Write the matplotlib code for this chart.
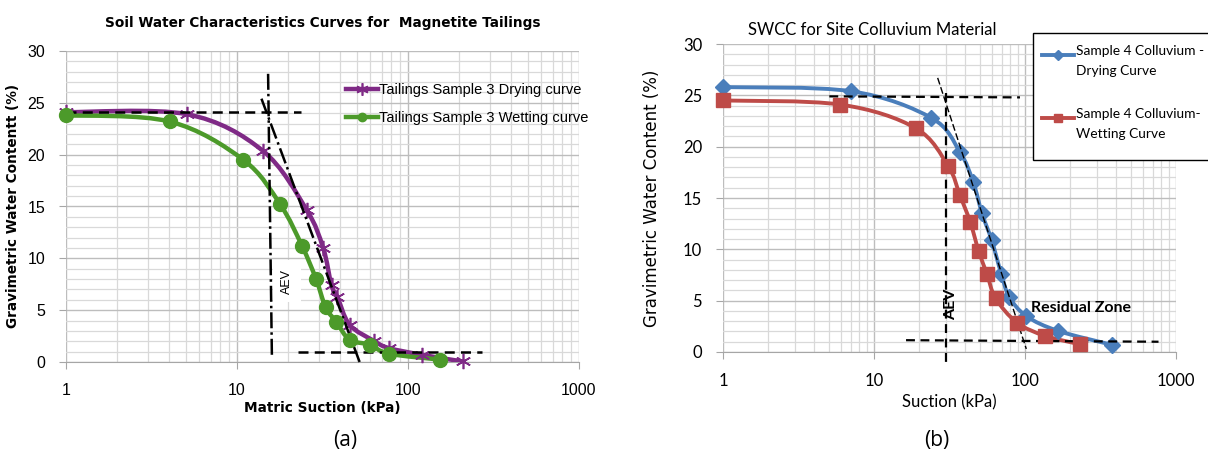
"""SWCC curves: magnetite tailings (a) and site colluvium (b)"""
import numpy as np
import matplotlib.pyplot as plt
from matplotlib.path import Path
from matplotlib.patches import PathPatch, Rectangle
from matplotlib.lines import Line2D
from matplotlib.ticker import MultipleLocator, LogLocator, FixedLocator

# ---- data ----
# (a) tailings
tail_dry_x = [1, 5.1, 14.1, 25.5, 31.9, 35.7, 38.6, 45.5, 63, 77, 120, 209]
tail_dry_y = [24.1, 23.9, 20.4, 14.7, 11.0, 7.4, 6.3, 3.6, 2.05, 1.35, 0.7, 0.05]
tail_wet_x = [1, 4.03, 10.9, 17.9, 24, 29, 33, 38, 45.5, 59.8, 77.4, 154]
tail_wet_y = [23.8, 23.2, 19.5, 15.2, 11.2, 8.0, 5.26, 3.9, 2.15, 1.67, 0.8, 0.23]

# (b) colluvium
coll_dry_x = [1, 7.05, 24, 37, 45.3, 51.9, 60.1, 69.7, 78.5, 102, 166, 377]
coll_dry_y = [25.8, 25.4, 22.8, 19.5, 16.6, 13.5, 10.9, 7.6, 5.4, 3.5, 2.05, 0.7]
coll_wet_x = [1, 5.98, 18.9, 31, 37, 43.4, 49.4, 56, 63.8, 88.3, 136, 232]
coll_wet_y = [24.5, 24.1, 21.8, 18.1, 15.3, 12.65, 9.8, 7.6, 5.25, 2.87, 1.57, 0.75]

tail_labels = ['Tailings Sample 3 Drying curve', 'Tailings Sample 3 Wetting curve']
coll_labels = ['Sample 4 Colluvium -\nDrying Curve', 'Sample 4 Colluvium-\nWetting Curve']

PURPLE, GREEN = '#7f2a86', '#4c9a2a'
BLUE, RED = '#4a7ebb', '#be4b48'
NARROW = ['Lato', 'DejaVu Sans']


def smooth_line(ax, xs, ys, color, lw):
    # Excel-style smoothed line: Catmull-Rom bezier through the points in log-x space
    lx = np.log10(xs)
    ys = np.asarray(ys, float)
    n = len(lx)
    verts = [(xs[0], ys[0])]
    codes = [Path.MOVETO]
    for i in range(n - 1):
        i0, i2, i3 = max(i - 1, 0), i + 1, min(i + 2, n - 1)
        c1 = (lx[i] + (lx[i2] - lx[i0]) / 6, ys[i] + (ys[i2] - ys[i0]) / 6)
        c2 = (lx[i2] - (lx[i3] - lx[i]) / 6, ys[i2] - (ys[i3] - ys[i]) / 6)
        verts += [(10 ** c1[0], c1[1]), (10 ** c2[0], c2[1]), (xs[i2], ys[i2])]
        codes += [Path.CURVE4] * 3
    ax.add_patch(PathPatch(Path(verts, codes), facecolor='none', edgecolor=color,
                           lw=lw, zorder=3, capstyle='round'))


def setup_axes(ax, ymax=30):
    ax.set_xscale('log')
    ax.set_xlim(1, 1000)
    ax.set_ylim(0, ymax)
    ax.xaxis.set_major_locator(FixedLocator([1, 10, 100, 1000]))
    ax.xaxis.set_minor_locator(LogLocator(base=10, subs=np.arange(2, 10)))
    ax.xaxis.set_major_formatter(plt.FuncFormatter(lambda v, p: f'{v:g}'))
    ax.xaxis.set_minor_formatter(plt.NullFormatter())
    ax.yaxis.set_major_locator(MultipleLocator(5))
    ax.yaxis.set_minor_locator(MultipleLocator(1))
    ax.grid(True, which='major', color='#bdbdbd', lw=1.0)
    ax.grid(True, which='minor', color='#d9d9d9', lw=0.9)
    for s in ['top', 'right']:
        ax.spines[s].set_visible(False)
    ax.spines['left'].set_visible(False)
    ax.spines['bottom'].set_color('#a6a6a6')
    ax.tick_params(which='both', length=0)
    ax.tick_params(axis='y', which='major', length=5, color='#a6a6a6', pad=10)
    ax.tick_params(axis='x', which='major', length=5, color='#a6a6a6', pad=10)
    ax.set_axisbelow(True)


fig = plt.figure(figsize=(12.08, 4.61), dpi=100)
W, H = 1208, 461

# ================= (a) =================
ax1 = fig.add_axes([66 / W, 1 - 362 / H, 513 / W, 311 / H])
setup_axes(ax1)
smooth_line(ax1, tail_dry_x, tail_dry_y, PURPLE, 3.2)
smooth_line(ax1, tail_wet_x, tail_wet_y, GREEN, 3.2)
ax1.plot(tail_dry_x, tail_dry_y, ls='none', marker=(6, 2, 0), ms=11, mew=1.2,
         color=PURPLE, zorder=4, clip_on=False)
ax1.plot(tail_wet_x, tail_wet_y, ls='none', marker='o', ms=10,
         color=GREEN, zorder=5, clip_on=False)

# construction lines
ax1.plot([1, 23.6], [24.1, 24.1], color='k', ls=(0, (4, 2.5)), lw=1.8, zorder=4)
ax1.plot([22.6, 270], [0.95, 0.95], color='k', ls=(0, (4, 2.5)), lw=1.8, zorder=4)
ax1.plot([15.2, 16.0], [27.8, 0.5], color='k', ls='-.', lw=1.8, zorder=4)
ax1.plot([13.9, 52.4], [25.4, -0.1], color='k', ls='-.', lw=1.8, zorder=4, clip_on=False)
ax1.text(19.6, 7.8, 'AEV', rotation=90, ha='center', va='center', fontsize=9,
         family='Liberation Sans',
         bbox=dict(facecolor='white', edgecolor='none', pad=6), zorder=3)

h1 = [Line2D([], [], color=PURPLE, lw=3.2, marker=(6, 2, 0), ms=9, mew=1.2),
      Line2D([], [], color=GREEN, lw=3.2, marker='o', ms=6)]
ax1.legend(h1, tail_labels, loc='upper left', bbox_to_anchor=(0.52, 0.94),
           frameon=False, handlelength=2.2, handletextpad=0.05, labelspacing=1.0,
           prop={'family': 'Liberation Sans', 'size': 10.5})

for t in ax1.get_xticklabels() + ax1.get_yticklabels():
    t.set_family('Liberation Sans')
    t.set_fontsize(11.5)
ax1.set_title('Soil Water Characteristics Curves for  Magnetite Tailings',
              fontsize=9.8, fontweight='bold', pad=17, family='DejaVu Sans')
ax1.set_xlabel('Matric Suction (kPa)', fontsize=9.8, fontweight='bold', labelpad=2)
ax1.set_ylabel('Gravimetric Water Contentt (%)', fontsize=9.8, fontweight='bold',
               labelpad=5)

# ================= (b) =================
ax2 = fig.add_axes([723 / W, 1 - 352 / H, 453 / W, 308 / H])
setup_axes(ax2)
smooth_line(ax2, coll_dry_x, coll_dry_y, BLUE, 2.8)
smooth_line(ax2, coll_wet_x, coll_wet_y, RED, 2.8)
ax2.plot(coll_dry_x, coll_dry_y, ls='none', marker='D', ms=8,
         color=BLUE, zorder=4, clip_on=False)
ax2.plot(coll_wet_x, coll_wet_y, ls='none', marker='s', ms=10.5,
         color=RED, zorder=5, clip_on=False)

ax2.plot([5.06, 92.6], [24.9, 24.8], color='k', ls=(0, (4, 2.5)), lw=1.6, zorder=4)
ax2.plot([16.3, 766], [1.15, 1.0], color='k', ls=(0, (4, 2.5)), lw=1.6, zorder=4)
ax2.plot([30, 30], [25.2, -1.3], color='k', ls=(0, (4, 2.5)), lw=1.6, zorder=4,
         clip_on=False)
ax2.plot([26.4, 102], [26.7, 0.3], color='k', ls=(0, (5, 2)), lw=1.0, zorder=4)
ax2.text(32.3, 4.6, 'AEV', rotation=90, ha='center', va='center', fontsize=11.5,
         fontweight='bold', family=NARROW, zorder=6)
ax2.text(110, 4.3, 'Residual Zone', ha='left', va='center', fontsize=11.5,
         fontweight='bold', family=NARROW, zorder=6)

# legend box runs off the right edge of the picture, as in the source;
# built by hand so the two-line labels get the wider line spacing
fig.patches.append(Rectangle((1033 / W, 1 - 160 / H), 0.3, 127 / H,
                             transform=fig.transFigure, facecolor='white',
                             edgecolor='black', lw=1.0, zorder=5))
for (col, mk, ms), lab, ytop in zip([(BLUE, 'D', 5), (RED, 's', 6)], coll_labels, [45, 108]):
    yl = 1 - (ytop + 10) / H
    fig.add_artist(Line2D(np.array([1042, 1058, 1074]) / W, [yl] * 3, color=col,
                          lw=2.8, marker=mk, ms=ms, markevery=[1],
                          transform=fig.transFigure, zorder=6))
    fig.text(1076 / W, 1 - ytop / H, lab, fontsize=9.9, family=NARROW,
             ha='left', va='top', linespacing=1.8, zorder=6)

for t in ax2.get_xticklabels() + ax2.get_yticklabels():
    t.set_family(NARROW)
    t.set_fontsize(12)
ax2.set_xlabel('Suction (kPa)', fontsize=12, family=NARROW, labelpad=4)
ax2.set_ylabel('Gravimetric Water Content (%)', fontsize=12, family='DejaVu Sans',
               labelpad=16)
fig.text(748 / W, 1 - 30 / H, 'SWCC for Site Colluvium Material',
         fontsize=12, family=NARROW, ha='left', va='center')

# captions
fig.text(345 / W, 1 - 440 / H, '(a)', fontsize=15, ha='center', va='center',
         family='Open Sans')
fig.text(937 / W, 1 - 440 / H, '(b)', fontsize=15, ha='center', va='center',
         family='Open Sans')

plt.savefig('out.png', dpi=100)
